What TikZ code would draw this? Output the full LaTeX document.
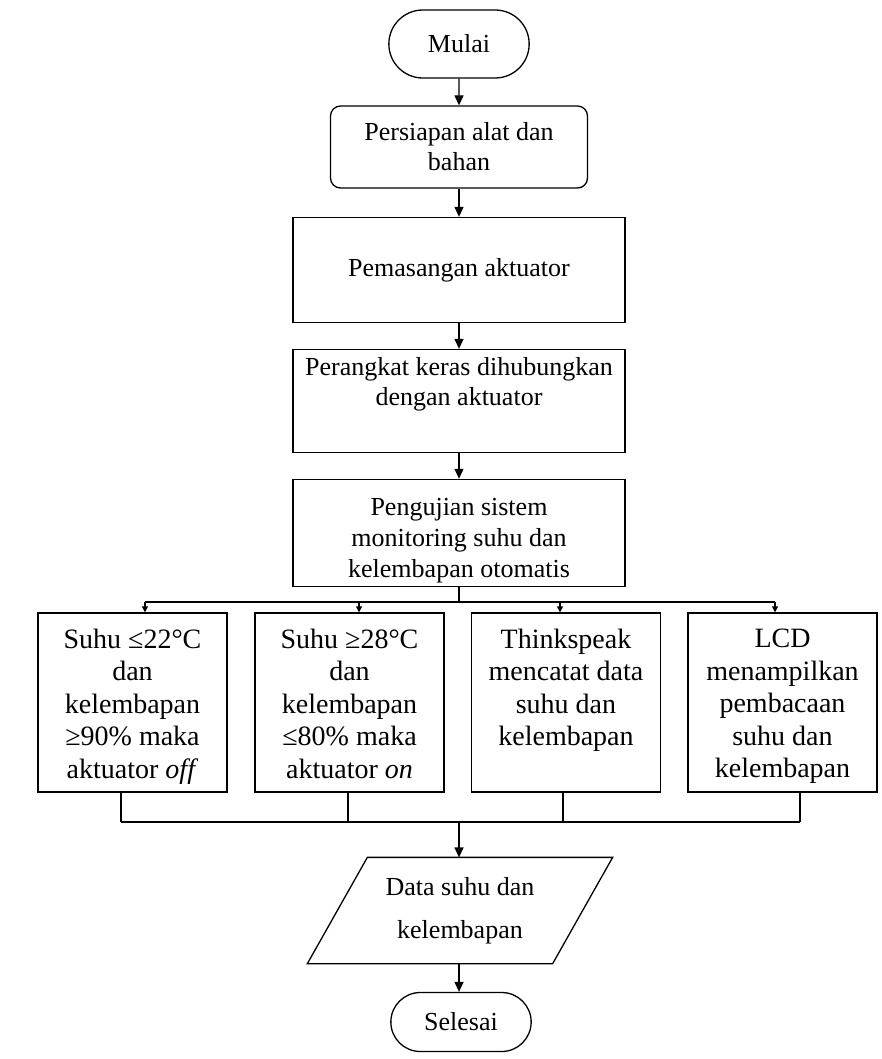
\documentclass[tikz,border=0pt]{standalone}
\usepackage{fontspec}
\setmainfont{Liberation Serif}
\usetikzlibrary{positioning,shapes.misc,arrows.meta}

\newcommand{\isikotak}[1]{\parbox[c][165pt][t]{185pt}{\centering\vspace*{9pt}#1}}

\begin{document}
\begin{tikzpicture}[x=1pt,y=1pt,on grid,line width=1.3pt,
    >={Triangle[length=10pt,width=9pt]},
    every node/.style={font=\fontsize{26}{30}\selectfont},
    terminal/.style={draw,rounded rectangle,minimum width=147pt,minimum height=68pt},
    proses/.style={draw,rectangle,minimum width=332pt,minimum height=104pt,align=center},
    kotak/.style={draw,rectangle,minimum width=189pt,minimum height=179pt,inner sep=0pt,
                  font=\fontsize{28}{32.5}\selectfont},
    data/.style={rectangle,minimum width=244pt,minimum height=105pt,inner sep=0pt,
                 align=center,font=\fontsize{26}{43}\selectfont},
    tanda/.style={-{Triangle[length=6pt,width=6pt]}}]
    \useasboundingbox (0,0) rectangle (882,-1059);
    \node[terminal]  (mulai) at (459,-44) {Mulai};
    \node[proses,rounded corners=10pt,minimum width=257pt,minimum height=82pt] (siap) [below=103pt of mulai] {Persiapan alat dan\\bahan};
    \node[proses,minimum height=105pt] (pasang) [below=123pt of siap] {Pemasangan aktuator};
    \node[proses,minimum height=103pt] (hubung) [below=131pt of pasang] {Perangkat keras dihubungkan\\dengan aktuator\\\strut};
    \node[proses,minimum height=103pt,font=\fontsize{26}{31}\selectfont] (uji) [below=132pt of hubung] {\rule{0pt}{33pt}Pengujian sistem\\monitoring suhu dan\\kelembapan otomatis};
    \coordinate (cabang) at (459,-602);
    \node[kotak] (k1) at (132.5,-702.5) {\isikotak{Suhu ≤22°C\\dan\\kelembapan\\≥90\% maka\\aktuator \textit{off}}};
    \node[kotak] (k2) [right=217pt of k1]   {\isikotak{Suhu ≥28°C\\dan\\kelembapan\\≤80\% maka\\aktuator \textit{on}}};
    \node[kotak] (k3) [right=216.5pt of k2] {\isikotak{Thinkspeak\\mencatat data\\suhu dan\\kelembapan}};
    \node[kotak] (k4) [right=216.5pt of k3] {\isikotak{LCD\\menampilkan\\pembacaan\\suhu dan\\kelembapan}};
    \coordinate (gabung) at (459,-822);
    \node[data] (datasuhu) at (460,-910.5) {Data suhu dan\\kelembapan};
    \draw ([xshift=-30pt]datasuhu.south west) -- ([xshift=-30pt]datasuhu.south east)
       -- ([xshift=30pt]datasuhu.north east) -- ([xshift=30pt]datasuhu.north west) -- cycle;
    \node[terminal,minimum height=59pt] (selesai) at (461,-1022) {Selesai};

    \path[->] (mulai)  edge (siap)
              (siap)   edge (pasang)
              (pasang) edge (hubung)
              (hubung) edge (uji);
    % percabangan ke empat kotak
    \draw (uji) -- (cabang);
    \draw ([xshift=12.5pt]k1.north |- cabang) -- ([xshift=-7.5pt]k4.north |- cabang);
    \foreach \k/\dx in {k1/12.5,k2/9.5,k3/-6,k4/-7.5}
      \draw[tanda] ([xshift=\dx pt]\k.north |- cabang) -- ([xshift=\dx pt]\k.north);
    % penggabungan
    \foreach \k/\dx in {k1/-11.5,k2/-1.5,k3/-3,k4/17.5}
      \draw ([xshift=\dx pt]\k.south) -- ([xshift=\dx pt]\k.south |- gabung);
    \draw ([xshift=-11.5pt]k1.south |- gabung) -- ([xshift=17.5pt]k4.south |- gabung);
    \draw[->] (gabung) -- (gabung |- datasuhu.north);
    \draw[->] (datasuhu.south -| gabung) -- (gabung |- selesai.north);
\end{tikzpicture}
\end{document}
